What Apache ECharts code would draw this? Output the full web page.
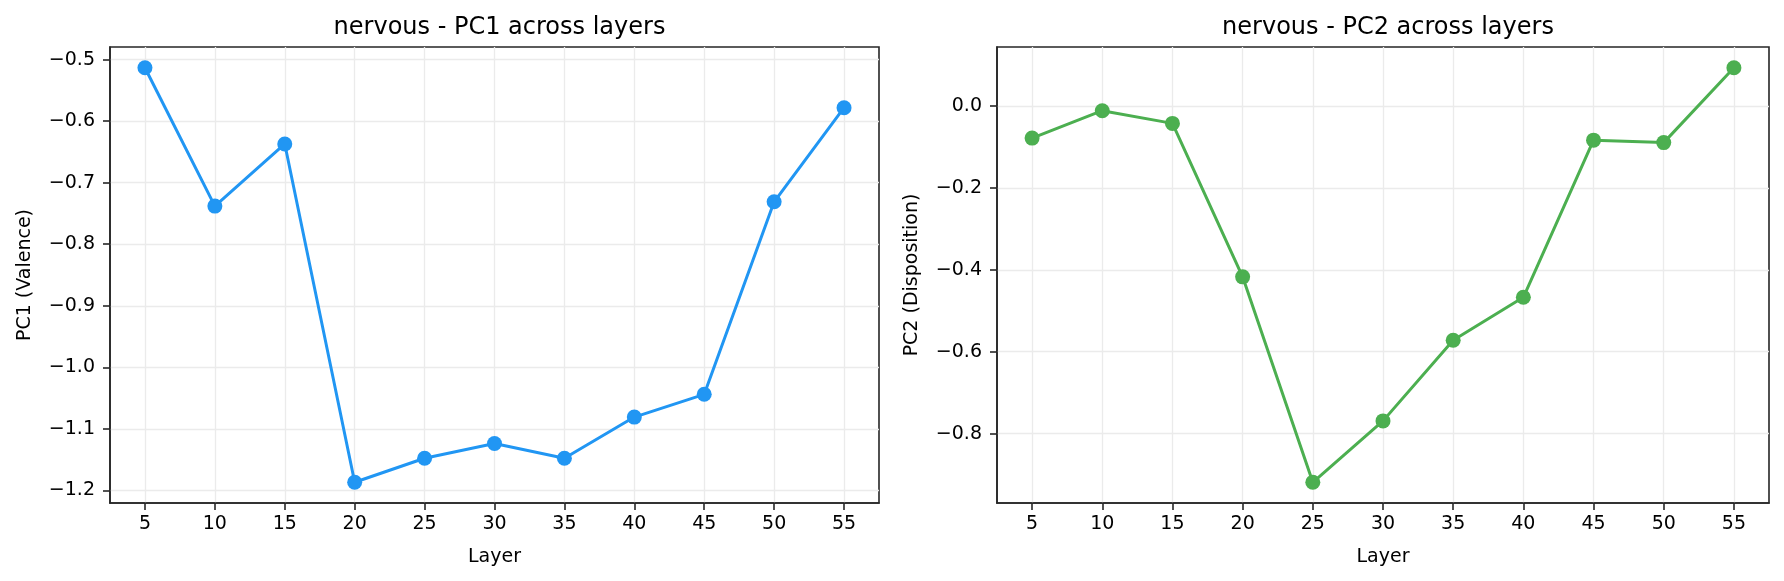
<!DOCTYPE html>
<html>
<head>
<meta charset="utf-8">
<script src="https://cdn.jsdelivr.net/npm/echarts@6/dist/echarts.min.js"></script>
<style>
html,body{margin:0;padding:0;background:#fff;}
#chart{width:1784px;height:581px;}
</style>
</head>
<body>
<div id="chart"></div>
<script>
const layers = [5, 10, 15, 20, 25, 30, 35, 40, 45, 50, 55];
const pc1Values = [-0.513, -0.738, -0.637, -1.187, -1.148, -1.124, -1.148, -1.081, -1.044, -0.731, -0.578];
const pc2Values = [-0.078, -0.011, -0.042, -0.417, -0.919, -0.769, -0.572, -0.467, -0.083, -0.089, 0.094];
const xTicks = [5, 10, 15, 20, 25, 30, 35, 40, 45, 50, 55];
const pc1Ticks = [-1.2, -1.1, -1.0, -0.9, -0.8, -0.7, -0.6, -0.5];
const pc2Ticks = [-0.8, -0.6, -0.4, -0.2, 0.0];
const titles = ['nervous - PC1 across layers', 'nervous - PC2 across layers'];
const yNames = ['PC1 (Valence)', 'PC2 (Disposition)'];
const xName = 'Layer';

function pad(arr) {
  const lo = Math.min(...arr), hi = Math.max(...arr), m = (hi - lo) * 0.05;
  return [lo - m, hi + m];
}
const fmt = v => (v < -1e-9 ? '\u2212' : '') + Math.abs(v).toFixed(1);
const FONT = 'DejaVu Sans';
const AX = '#262626';

function xAxis(gi) {
  const r = pad(layers);
  return {
    type: 'value', gridIndex: gi, min: r[0], max: r[1],
    name: xName, nameLocation: 'middle', nameGap: 45,
    nameTextStyle: {fontFamily: FONT, fontSize: 19, color: '#000'},
    axisLine: {show: true, onZero: false, lineStyle: {color: AX, width: 1.6}},
    axisTick: {show: true, length: 7, lineStyle: {color: AX, width: 1.6}, customValues: xTicks},
    axisLabel: {fontFamily: FONT, fontSize: 19, color: '#000', margin: 12, customValues: xTicks, formatter: v => String(v)},
    splitLine: {show: true, lineStyle: {color: '#ebebeb', width: 1.3}}
  };
}
function yAxis(gi, vals, ticks, name) {
  const r = pad(vals);
  return {
    type: 'value', gridIndex: gi, min: r[0], max: r[1],
    name: name, nameLocation: 'middle', nameGap: 75, nameRotate: 90,
    nameTextStyle: {fontFamily: FONT, fontSize: 19, color: '#000'},
    axisLine: {show: true, onZero: false, lineStyle: {color: AX, width: 1.6}},
    axisTick: {show: true, length: 7, lineStyle: {color: AX, width: 1.6}, customValues: ticks},
    axisLabel: {fontFamily: FONT, fontSize: 19, color: '#000', margin: 15, customValues: ticks, formatter: fmt},
    splitLine: {show: true, lineStyle: {color: '#ebebeb', width: 1.3}}
  };
}

const chart = echarts.init(document.getElementById('chart'), null, {renderer: 'canvas'});
chart.setOption({
  animation: false,
  backgroundColor: '#fff',
  title: [
    {text: titles[0], left: 110 + 769 / 2, top: 11, textAlign: 'center', textStyle: {fontFamily: FONT, fontSize: 24, fontWeight: 'normal', color: '#000'}},
    {text: titles[1], left: 997 + 772 / 2, top: 11, textAlign: 'center', textStyle: {fontFamily: FONT, fontSize: 24, fontWeight: 'normal', color: '#000'}}
  ],
  grid: [
    {left: 110, width: 769, top: 47, height: 456, show: true, borderColor: AX, borderWidth: 1.6, backgroundColor: 'transparent'},
    {left: 997, width: 772, top: 47, height: 456, show: true, borderColor: AX, borderWidth: 1.6, backgroundColor: 'transparent'}
  ],
  xAxis: [xAxis(0), xAxis(1)],
  yAxis: [yAxis(0, pc1Values, pc1Ticks, yNames[0]), yAxis(1, pc2Values, pc2Ticks, yNames[1])],
  series: [
    {type: 'line', xAxisIndex: 0, yAxisIndex: 0, data: layers.map((l, i) => [l, pc1Values[i]]),
     symbol: 'circle', symbolSize: 15, showSymbol: true,
     lineStyle: {color: '#2196F3', width: 3}, itemStyle: {color: '#2196F3'}},
    {type: 'line', xAxisIndex: 1, yAxisIndex: 1, data: layers.map((l, i) => [l, pc2Values[i]]),
     symbol: 'circle', symbolSize: 15, showSymbol: true,
     lineStyle: {color: '#4CAF50', width: 3}, itemStyle: {color: '#4CAF50'}}
  ]
});
</script>
</body>
</html>
